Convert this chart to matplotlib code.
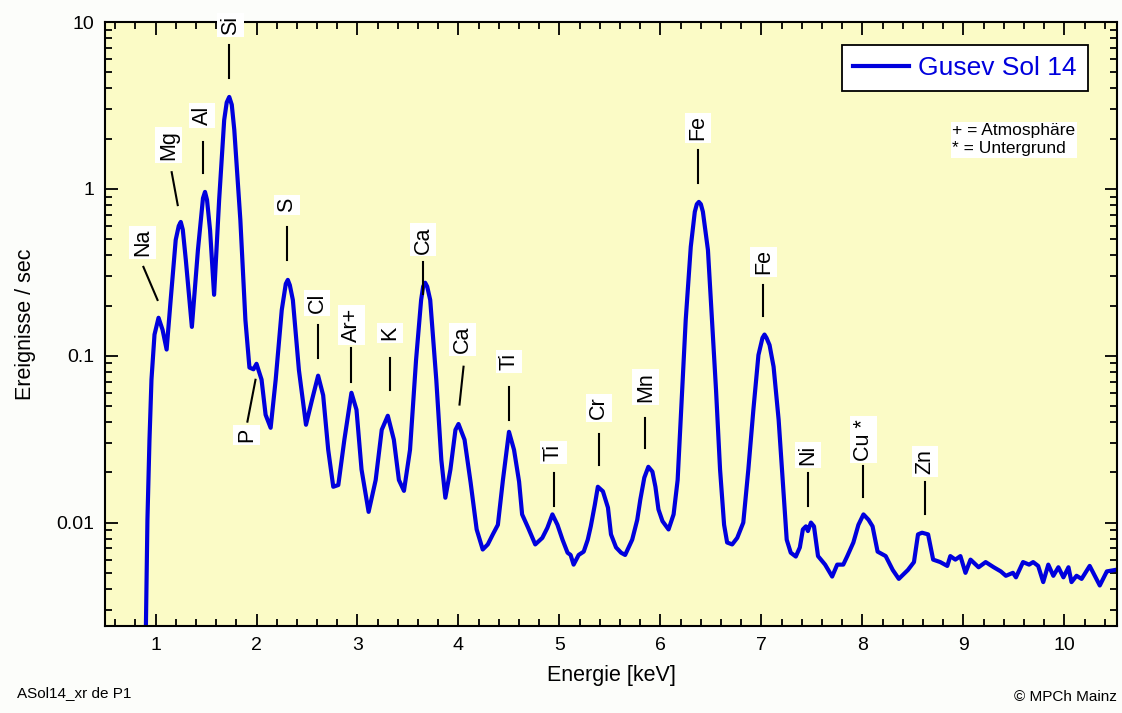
import matplotlib
matplotlib.use('Agg')
import matplotlib.pyplot as plt
from matplotlib.ticker import MultipleLocator, LogLocator, NullFormatter, FixedLocator, FixedFormatter

plt.rcParams['font.family'] = ['Liberation Sans', 'DejaVu Sans']

# spectrum: energy (keV) and count rate (1/s)
energy = [0.90, 0.92, 0.94, 0.96, 0.99, 1.03, 1.07, 1.11, 1.15, 1.20,
          1.23, 1.25, 1.27, 1.30, 1.36, 1.42, 1.47, 1.49, 1.51, 1.54, 1.58, 1.63, 1.68, 1.705, 1.73,
          1.755, 1.78, 1.84, 1.89, 1.93, 1.97, 2.00, 2.05, 2.09, 2.14, 2.19,
          2.25, 2.29, 2.31, 2.33, 2.36, 2.42, 2.49, 2.55, 2.61, 2.66, 2.71, 2.76,
          2.81, 2.87, 2.94, 2.99, 3.04, 3.11, 3.18, 3.24, 3.30, 3.36,
          3.41, 3.46, 3.52, 3.58, 3.63, 3.65, 3.67, 3.69, 3.72, 3.78, 3.83, 3.87,
          3.92, 3.97, 4.00, 4.06, 4.12, 4.18, 4.24, 4.29, 4.34, 4.39,
          4.44, 4.50, 4.55, 4.60, 4.63, 4.69, 4.76, 4.83, 4.88, 4.93,
          4.98, 5.03, 5.08, 5.11, 5.14, 5.19, 5.24, 5.28, 5.31, 5.35,
          5.38, 5.43, 5.48, 5.51, 5.56, 5.61, 5.65, 5.72, 5.77, 5.80,
          5.84, 5.88, 5.92, 5.95, 5.98, 6.02, 6.08, 6.13, 6.17, 6.21,
          6.25, 6.30, 6.34, 6.36, 6.38, 6.40, 6.42, 6.47, 6.51, 6.55, 6.59, 6.63,
          6.66, 6.71, 6.76, 6.82, 6.87, 6.92, 6.97, 7.01, 7.03, 7.05, 7.08, 7.12,
          7.17, 7.21, 7.25, 7.29, 7.34, 7.38, 7.41, 7.44, 7.46, 7.49,
          7.52, 7.56, 7.63, 7.70, 7.75, 7.81, 7.85, 7.91, 7.96, 8.01,
          8.06, 8.10, 8.15, 8.23, 8.30, 8.36, 8.45, 8.51, 8.55, 8.59,
          8.65, 8.70, 8.77, 8.84, 8.87, 8.92, 8.97, 9.02, 9.07, 9.15,
          9.22, 9.30, 9.37, 9.42, 9.49, 9.52, 9.59, 9.65, 9.69, 9.74,
          9.79, 9.84, 9.89, 9.94, 9.99, 10.04, 10.07, 10.12, 10.17, 10.25,
          10.30, 10.35, 10.42, 10.50]
rate = [0.0015, 0.0104, 0.031, 0.072, 0.134, 0.169, 0.143, 0.109, 0.216, 0.495,
        0.60, 0.634, 0.57, 0.376, 0.149, 0.431, 0.88, 0.96, 0.86, 0.568, 0.232, 0.86, 2.59, 3.3, 3.56,
        3.2, 2.26, 0.652, 0.164, 0.085, 0.083, 0.0895, 0.072, 0.0443, 0.037, 0.072,
        0.188, 0.27, 0.285, 0.265, 0.216, 0.082, 0.0386, 0.0545, 0.076, 0.058, 0.0273, 0.0164,
        0.0168, 0.0314, 0.060, 0.0475, 0.0208, 0.0116, 0.018, 0.036, 0.0437, 0.0314,
        0.018, 0.0155, 0.0273, 0.0946, 0.216, 0.26, 0.274, 0.26, 0.216, 0.072, 0.0238, 0.0141,
        0.0208, 0.036, 0.039, 0.0314, 0.0174, 0.0091, 0.0069, 0.0074, 0.0085, 0.0097,
        0.018, 0.035, 0.0273, 0.0176, 0.0112, 0.0093, 0.0074, 0.0081, 0.0093, 0.0112,
        0.0097, 0.0079, 0.0066, 0.0064, 0.0056, 0.0064, 0.0067, 0.0079, 0.0095, 0.0128,
        0.0164, 0.0154, 0.0123, 0.0085, 0.0071, 0.0066, 0.0064, 0.0079, 0.0104, 0.0137,
        0.0186, 0.0216, 0.0202, 0.0164, 0.012, 0.0102, 0.0091, 0.0112, 0.018, 0.0545,
        0.164, 0.45, 0.73, 0.81, 0.836, 0.81, 0.73, 0.431, 0.164, 0.0625, 0.0208, 0.0097,
        0.0076, 0.0074, 0.0081, 0.010, 0.0208, 0.0475, 0.101, 0.128, 0.134, 0.128, 0.116, 0.086,
        0.0414, 0.018, 0.0079, 0.0066, 0.00626, 0.0071, 0.0091, 0.0095, 0.0089, 0.010,
        0.0095, 0.0063, 0.0056, 0.00475, 0.0056, 0.0056, 0.0063, 0.0076, 0.0097, 0.0112,
        0.0104, 0.0095, 0.0067, 0.0063, 0.0052, 0.0046, 0.0052, 0.0058, 0.0085, 0.0087,
        0.0085, 0.006, 0.0058, 0.0055, 0.0063, 0.006, 0.0063, 0.005, 0.006, 0.0054,
        0.0058, 0.0054, 0.0051, 0.0048, 0.005, 0.0047, 0.0058, 0.0056, 0.0058, 0.0055,
        0.0044, 0.0056, 0.0048, 0.0054, 0.0047, 0.0054, 0.0044, 0.0048, 0.0046, 0.0055,
        0.0048, 0.0042, 0.0051, 0.0052]

# peak labels: name, text position, marker line (x0, y0, x1, y1)
peak_names = ['Na', 'Mg', 'Al', 'Si', 'P', 'S', 'Cl', 'Ar+', 'K', 'Ca', 'Ca',
              'Ti', 'Ti', 'Cr', 'Mn', 'Fe', 'Fe', 'Ni', 'Cu *', 'Zn']
peak_text_x = [0.87, 1.13, 1.46, 1.74, 1.90, 2.30, 2.60, 2.94, 3.32, 3.65, 4.04,
               4.50, 4.94, 5.39, 5.85, 6.37, 7.02, 7.46, 8.01, 8.62]
peak_text_y = [0.48, 1.83, 2.77, 9.6, 0.0336, 0.80, 0.207, 0.153, 0.137, 0.495, 0.125,
               0.092, 0.0262, 0.0488, 0.065, 2.32, 0.365, 0.0255, 0.0314, 0.0232]
peak_lines = [(0.88, 0.341, 1.02, 0.216), (1.16, 1.26, 1.22, 0.80),
              (1.47, 1.91, 1.47, 1.25), (1.73, 7.3, 1.73, 4.6),
              (1.91, 0.0403, 1.99, 0.0718), (2.30, 0.592, 2.30, 0.376),
              (2.61, 0.153, 2.61, 0.097), (2.94, 0.112, 2.94, 0.070),
              (3.32, 0.097, 3.32, 0.0626), (3.65, 0.365, 3.65, 0.233),
              (4.05, 0.086, 4.01, 0.051), (4.50, 0.065, 4.50, 0.0414),
              (4.95, 0.0197, 4.95, 0.0125), (5.39, 0.0341, 5.39, 0.0222),
              (5.85, 0.0426, 5.85, 0.0281), (6.37, 1.71, 6.37, 1.09),
              (7.02, 0.266, 7.02, 0.174), (7.46, 0.0197, 7.46, 0.0125),
              (8.01, 0.0219, 8.01, 0.0143), (8.62, 0.0174, 8.62, 0.0113)]

fig = plt.figure(figsize=(11.22, 7.13), dpi=100, facecolor='#fcfdfa')
ax = fig.add_axes([0.0936, 0.122, 0.9019, 0.847])
ax.set_facecolor('#fbfbc6')

ax.plot(energy, rate, color='#0000dd', lw=3, label='Gusev Sol 14', solid_joinstyle='round')

ax.set_yscale('log')
ax.set_xlim(0.5, 10.52)
ax.set_ylim(0.0024, 10)

ax.xaxis.set_major_locator(MultipleLocator(1))
ax.xaxis.set_minor_locator(MultipleLocator(0.2))
ax.yaxis.set_major_locator(FixedLocator([0.01, 0.1, 1, 10]))
ax.yaxis.set_major_formatter(FixedFormatter(['0.01', '0.1', '1', '10']))
ax.yaxis.set_minor_locator(LogLocator(base=10, subs=range(2, 10)))
ax.yaxis.set_minor_formatter(NullFormatter())
ax.tick_params(which='both', direction='in', top=True, right=True, width=1.3, labelsize=14)
ax.tick_params(which='major', length=9, pad=8)
ax.tick_params(which='minor', length=5)
for s in ax.spines.values():
    s.set_linewidth(1.5)

ax.set_xlabel('Energie [keV]', fontsize=15.5, labelpad=8)
ax.set_ylabel('Ereignisse / sec', fontsize=15.5, labelpad=14)

for i, name in enumerate(peak_names):
    ax.text(peak_text_x[i], peak_text_y[i], name, rotation=90, fontsize=15.5,
            ha='center', va='center',
            bbox=dict(facecolor='white', edgecolor='none', pad=2))
    x0, y0, x1, y1 = peak_lines[i]
    ax.plot([x0, x1], [y0, y1], color='black', lw=1.5)

leg = ax.legend(loc='upper right', bbox_to_anchor=(0.971, 0.962), fontsize=19,
                frameon=True, fancybox=False, handlelength=2.1, borderpad=0.42,
                handletextpad=0.35, borderaxespad=0)
leg.get_frame().set_edgecolor('black')
leg.get_frame().set_linewidth(1.3)
leg.get_frame().set_alpha(1)
for t in leg.get_texts():
    t.set_color('#0000dd')

ax.text(0.837, 0.805, '+ = Atmosphäre\n* = Untergrund', transform=ax.transAxes,
        fontsize=12.5, va='center', ha='left', linespacing=1.25,
        bbox=dict(facecolor='white', edgecolor='none', pad=1))

fig.text(0.015, 0.018, 'ASol14_xr de P1', fontsize=11, ha='left', va='bottom')
fig.text(0.995, 0.012, '© MPCh Mainz', fontsize=11, ha='right', va='bottom')

fig.savefig('out.png', dpi=100, facecolor=fig.get_facecolor())
